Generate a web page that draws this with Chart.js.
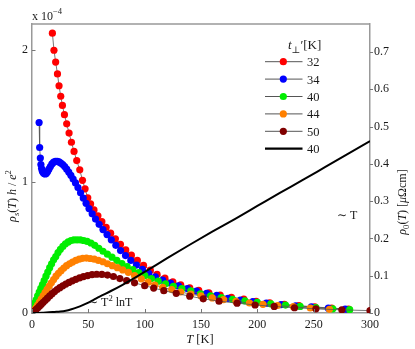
<!DOCTYPE html>
<html>
<head>
<meta charset="utf-8">
<script src="https://cdn.jsdelivr.net/npm/chart.js@4/dist/chart.umd.min.js"></script>
<style>
html,body{margin:0;padding:0;background:#fff;}
canvas{display:block;}
</style>
</head>
<body>
<canvas id="c" width="415" height="349"></canvas>
<script>
// ---- data (rho_s in units of 1e-4 h/e^2, rho_0 in micro-Ohm cm) ----
const T_32 = [18.1,19.5,21,22.6,24,25.5,27,28.8,30.8,32.9,35,37.3,39.7,42.4,44.8,47.1,49.5,52,55,58.5,62,65.8,69.8,74,78.5,83.2,88.2,93.5,99,105,111,118,125,132,140,148,157,167,177,188,199,211,224,237,251,266,281];
const rho_32 = [2.13,2.00,1.91,1.82,1.73,1.65,1.58,1.51,1.44,1.37,1.30,1.23,1.16,1.09,1.01,0.945,0.877,0.83,0.785,0.74,0.695,0.652,0.608,0.565,0.522,0.48,0.44,0.40,0.362,0.326,0.295,0.265,0.238,0.214,0.192,0.172,0.153,0.136,0.12,0.106,0.088,0.077,0.066,0.056,0.046,0.037,0.029];

const T_34 = [6.3,6.8,7.4,7.9,8.5,9.2,10,10.9,11.8,12.8,13.9,15,16.3,17.7,19.2,20.8,22.4,24,25.6,27.3,29,30.8,32.6,34.5,36.5,38.6,40.8,43.1,45.5,48,50.6,53.4,56.4,59.6,63,66.6,70.4,74.4,78.6,83,87.7,92.7,98,103.6,109.5,116,123,130,138,146,155,164,174,185,196,208,221,234,248,263,278];
const rho_34 = [1.45,1.26,1.18,1.13,1.10,1.08,1.068,1.06,1.058,1.064,1.078,1.095,1.115,1.135,1.148,1.155,1.155,1.15,1.142,1.13,1.115,1.095,1.073,1.048,1.02,0.99,0.955,0.915,0.875,0.835,0.795,0.755,0.715,0.675,0.635,0.597,0.557,0.515,0.475,0.437,0.40,0.365,0.332,0.302,0.275,0.25,0.227,0.206,0.186,0.167,0.15,0.134,0.112,0.098,0.086,0.075,0.064,0.055,0.046,0.037,0.029];

const T_40 = [0.5,1.5,2.5,3.7,5,6.4,7.8,9.3,10.8,12.4,14,15.7,17.4,19.2,21.1,23.1,25.2,27.4,29.7,32.1,34.6,37.2,40,42.9,45.9,49,52.3,55.7,59.3,63,66.9,71,75.3,79.8,84.5,89.5,94.7,100.2,106,112,118.5,125.5,133,141,149.5,158.5,168,178,189,200,212,225,238,252,267,282];
const rho_40 = [0.01,0.04,0.075,0.1,0.13,0.16,0.187,0.217,0.247,0.28,0.312,0.345,0.375,0.405,0.43,0.46,0.485,0.507,0.527,0.541,0.551,0.556,0.557,0.556,0.552,0.545,0.533,0.515,0.493,0.47,0.448,0.425,0.401,0.377,0.353,0.33,0.307,0.284,0.262,0.242,0.222,0.203,0.185,0.168,0.146,0.131,0.117,0.104,0.092,0.081,0.07,0.06,0.05,0.041,0.032,0.025];

const T_44 = [0.5,2,3.5,5,6.6,8.2,9.9,11.6,13.4,15.3,17.2,19.2,21.3,23.5,25.8,28.2,30.7,33.3,36,38.9,41.9,45,48.3,51.7,55.3,59,63,67,71.3,75.8,80.5,85.5,91,97,103,109,116,124,132,141,150,160,170,181,193,205,218,232,247,264];
const rho_44 = [0.005,0.02,0.04,0.06,0.083,0.105,0.13,0.155,0.18,0.205,0.23,0.255,0.28,0.302,0.322,0.342,0.36,0.375,0.388,0.4,0.41,0.416,0.418,0.415,0.41,0.4,0.39,0.375,0.36,0.345,0.328,0.31,0.285,0.26,0.235,0.213,0.195,0.178,0.16,0.143,0.13,0.115,0.102,0.088,0.076,0.066,0.057,0.048,0.038,0.028];

const T_50 = [0.5,2,3.5,5,6.6,8.3,10,11.8,13.7,15.7,17.8,20,22.3,24.7,27.3,30,32.8,35.8,38.9,42.2,45.7,49.4,53.3,57.4,62,67,72.3,78,84,91,100,108,117,128,140,152,166,182,198,215,233,252,275,300];
const rho_50 = [0.003,0.012,0.025,0.038,0.052,0.067,0.082,0.097,0.113,0.13,0.147,0.163,0.178,0.193,0.207,0.22,0.233,0.245,0.256,0.267,0.277,0.285,0.292,0.295,0.294,0.289,0.278,0.262,0.247,0.23,0.208,0.19,0.17,0.15,0.128,0.108,0.09,0.075,0.061,0.05,0.04,0.032,0.024,0.018];

const T_rho0 = [0,5,10,15,20,25,30,35,40,45,50,55,60,70,80,90,100,120,140,160,180,200,220,240,260,280,300];
const rho0_40 = [0,0.0003,0.001,0.0018,0.0028,0.0038,0.006,0.01,0.015,0.021,0.028,0.036,0.044,0.059,0.075,0.092,0.11,0.147,0.183,0.218,0.252,0.287,0.322,0.356,0.391,0.426,0.461];

const xTicks = [0,50,100,150,200,250,300];
const yLeftTicks = [0,1,2];
const yRightTicks = [0,0.1,0.2,0.3,0.4,0.5,0.6,0.7];

const seriesLabels = ['32','34','40','44','50'];
const seriesColors = ['#ff0000','#0000ff','#00ee00','#ff8000','#800000'];
const seriesT = [T_32,T_34,T_40,T_44,T_50];
const seriesRho = [rho_32,rho_34,rho_40,rho_44,rho_50];

// ---- helpers ----
const SERIF = '"Liberation Serif","DejaVu Serif","Times New Roman",serif';
const TXT = '#1a1a1a';
function fnt(size, italic){ return (italic ? 'italic ' : '') + size + 'px ' + SERIF; }
function partSize(p, size){ return (p.sub || p.sup) ? size * 0.72 : size; }
function richWidth(ctx, parts, size){
  let w = 0;
  for (const p of parts){ ctx.font = fnt(partSize(p,size), p.i); w += ctx.measureText(p.t).width; }
  return w;
}
function drawRich(ctx, parts, x, y, size, align, angle){
  ctx.save();
  ctx.translate(x, y);
  if (angle) ctx.rotate(angle);
  const w = richWidth(ctx, parts, size);
  let cx = align === 'center' ? -w/2 : (align === 'right' ? -w : 0);
  ctx.textAlign = 'left';
  ctx.textBaseline = 'alphabetic';
  ctx.fillStyle = TXT;
  for (const p of parts){
    const s = partSize(p, size);
    ctx.font = fnt(s, p.i);
    const dy = p.sub ? size*0.28 : (p.sup ? -size*0.42 : 0);
    ctx.fillText(p.t, cx, dy);
    cx += ctx.measureText(p.t).width;
  }
  ctx.restore();
}

const decor = {
  id: 'decor',
  afterDraw(chart){
    const ctx = chart.ctx;
    const a = chart.chartArea;
    const sx = chart.scales.x, sy = chart.scales.y, sy2 = chart.scales.y2;
    ctx.save();
    ctx.strokeStyle = '#999';
    ctx.lineWidth = 1.5;
    ctx.beginPath();
    ctx.moveTo(a.left, a.top); ctx.lineTo(a.right, a.top);
    ctx.stroke();
    // tick marks
    ctx.lineWidth = 1;
    ctx.strokeStyle = '#777';
    ctx.beginPath();
    for (const v of yLeftTicks){ const y = Math.round(sy.getPixelForValue(v)) + 0.5; ctx.moveTo(a.left, y); ctx.lineTo(a.left + 3.5, y); }
    for (const v of xTicks){ const x = Math.round(sx.getPixelForValue(v)) + 0.5; ctx.moveTo(x, a.bottom); ctx.lineTo(x, a.bottom - 4); }
    for (const v of yRightTicks){ const y = Math.round(sy2.getPixelForValue(v)) + 0.5; ctx.moveTo(a.right, y); ctx.lineTo(a.right + 3, y); }
    ctx.stroke();
    ctx.restore();

    // exponent
    drawRich(ctx, [{t:'x 10'},{t:'\u22124', sup:true}], 32, 19.5, 12, 'left');
    // axis titles
    drawRich(ctx, [{t:'T', i:true},{t:' [K]'}], 200, 343, 12.5, 'center');
    drawRich(ctx, [{t:'\u03c1', i:true},{t:'s', i:true, sub:true},{t:'('},{t:'T', i:true},{t:')'},{t:' '},{t:'h', i:true},{t:' / '},{t:'e', i:true},{t:'2', sup:true}], 16, 196, 12, 'center', -Math.PI/2);
    drawRich(ctx, [{t:'\u03c1', i:true},{t:'0', sub:true},{t:'('},{t:'T', i:true},{t:') ['},{t:'\u03bc', i:true},{t:'\u03a9cm]'}], 406, 202, 12, 'center', -Math.PI/2);
    // annotations
    drawRich(ctx, [{t:'\u223c T'}], 337, 219, 12, 'left');
    drawRich(ctx, [{t:'\u223c T'},{t:'2', sup:true},{t:' lnT'}], 88, 306, 12, 'left');

    // legend
    drawRich(ctx, [{t:'t', i:true},{t:'\u22a5', sub:true},{t:'\u2032'},{t:'[K]'}], 288, 49, 13, 'left');
    const rows = [61.7, 79.1, 96.5, 113.9, 131.3, 148.6];
    ctx.save();
    for (let i = 0; i < 6; i++){
      const y = rows[i];
      ctx.beginPath();
      ctx.moveTo(265, y); ctx.lineTo(302.5, y);
      if (i < 5){ ctx.strokeStyle = '#555'; ctx.lineWidth = 1; }
      else { ctx.strokeStyle = '#000'; ctx.lineWidth = 2.2; }
      ctx.stroke();
      if (i < 5){
        ctx.beginPath();
        ctx.arc(283.3, y, 3.6, 0, Math.PI*2);
        ctx.fillStyle = seriesColors[i];
        ctx.fill();
      }
      ctx.fillStyle = TXT;
      ctx.font = fnt(12.5, false);
      ctx.textAlign = 'left';
      ctx.textBaseline = 'alphabetic';
      ctx.fillText(i < 5 ? seriesLabels[i] : '40', 307, y + 4.5);
    }
    ctx.restore();
  }
};

// ---- datasets ----
const datasets = [];
datasets.push({
  label: '40 (rho_0)',
  data: T_rho0.map((t,i)=>({x:t, y:rho0_40[i]})),
  yAxisID: 'y2',
  showLine: true,
  borderColor: '#000',
  borderWidth: 2,
  pointRadius: 0,
  cubicInterpolationMode: 'monotone',
  order: 0
});
for (let s = 0; s < 5; s++){
  datasets.push({
    label: seriesLabels[s],
    data: seriesT[s].map((t,i)=>({x:t, y:seriesRho[s][i]})),
    yAxisID: 'y',
    showLine: true,
    borderColor: '#555',
    borderWidth: 0.8,
    pointRadius: 3.6,
    pointBackgroundColor: seriesColors[s],
    pointBorderWidth: 0,
    pointBorderColor: seriesColors[s],
    order: 5 - s
  });
}

const tickFont = {family: SERIF, size: 12};
new Chart(document.getElementById('c'), {
  type: 'scatter',
  data: {datasets},
  options: {
    responsive: false,
    animation: false,
    devicePixelRatio: 1,
    layout: {padding: {top: 24, left: 0, right: 0, bottom: 0}},
    plugins: {legend: {display: false}, tooltip: {enabled: false}},
    scales: {
      x: {
        type: 'linear', min: 0, max: 300,
        ticks: {stepSize: 50, includeBounds: false, font: tickFont, color: TXT, padding: 5, maxRotation: 0},
        grid: {display: false, drawTicks: false},
        border: {display: true, color: '#999', width: 1.5},
        afterFit(s){ s.height = 36; }
      },
      y: {
        type: 'linear', position: 'left', min: 0, max: 2.2,
        ticks: {stepSize: 1, includeBounds: false, font: tickFont, color: TXT, padding: 4},
        grid: {display: false, drawTicks: false},
        border: {display: true, color: '#999', width: 1.5},
        afterFit(s){ s.width = 32; }
      },
      y2: {
        type: 'linear', position: 'right', min: 0, max: 0.775,
        ticks: {stepSize: 0.1, includeBounds: false, font: tickFont, color: TXT, padding: 4,
          callback: v => (Math.abs(v) < 1e-9 ? '0' : v.toFixed(1))},
        grid: {display: false, drawTicks: false},
        border: {display: true, color: '#999', width: 1.5},
        afterFit(s){ s.width = 45; }
      }
    }
  },
  plugins: [decor]
});
</script>
</body>
</html>
